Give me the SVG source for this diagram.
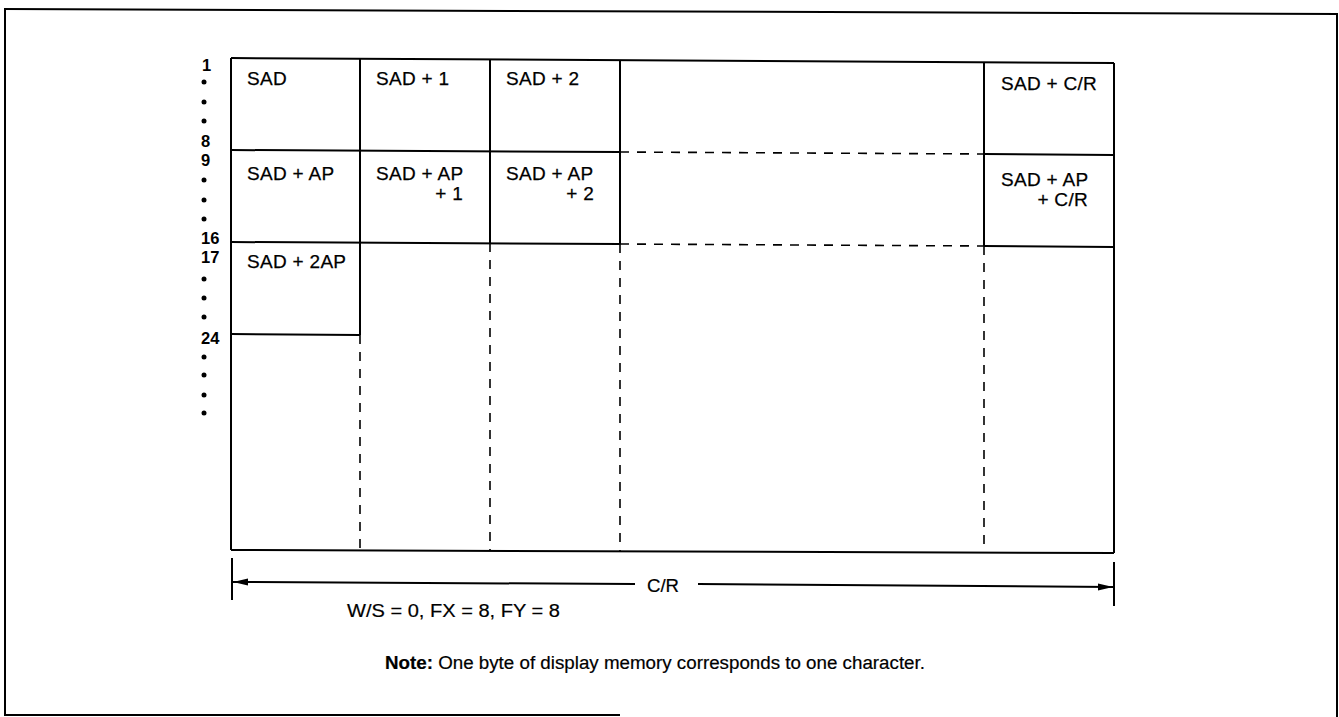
<svg xmlns="http://www.w3.org/2000/svg" width="1339" height="717" viewBox="0 0 1339 717">
<defs>
<style>
.frame{stroke:#000;stroke-width:2;fill:none}
.solid{stroke:#000;stroke-width:2;fill:none}
.dash{stroke:#000;stroke-width:1.6;fill:none;stroke-dasharray:9 8}
.lbl{font-family:"Liberation Sans",Arial,sans-serif;font-size:19px;letter-spacing:0.3px;fill:#000;stroke:#000;stroke-width:0.25}
.row{font-family:"Liberation Sans",Arial,sans-serif;font-size:16.5px;font-weight:bold;fill:#000}
.txt{font-family:"Liberation Sans",Arial,sans-serif;font-size:18px;fill:#000;stroke:#000;stroke-width:0.2}
.dot{fill:#000}
</style>
<marker id="ah" markerUnits="userSpaceOnUse" markerWidth="16" markerHeight="8" refX="15" refY="4" orient="auto">
<path d="M0,0.5 L15,4 L0,7.5 z" fill="#000"/>
</marker>
</defs>
<rect width="1339" height="717" fill="#fff"/>
<g id="outer-frame">
<line class="frame" x1="5" y1="8" x2="5" y2="716"/>
<line class="frame" x1="4" y1="9" x2="1338" y2="14"/>
<line class="frame" x1="1337" y1="13" x2="1337" y2="717"/>
<line class="frame" x1="4" y1="715" x2="620" y2="715"/>
</g>
<g id="grid">
<line class="solid" x1="231" y1="58" x2="1114" y2="63"/>
<line class="solid" x1="231" y1="150" x2="620" y2="152"/>
<line class="dash" x1="620" y1="152" x2="984" y2="154"/>
<line class="solid" x1="984" y1="154" x2="1114" y2="155"/>
<line class="solid" x1="231" y1="242" x2="620" y2="244"/>
<line class="dash" x1="620" y1="244" x2="984" y2="246"/>
<line class="solid" x1="984" y1="246" x2="1114" y2="247"/>
<line class="solid" x1="231" y1="334" x2="360" y2="335"/>
<line class="solid" x1="231" y1="550" x2="1114" y2="553"/>
<line class="solid" x1="231" y1="58" x2="231" y2="550"/>
<line class="solid" x1="360" y1="58" x2="360" y2="335"/>
<line class="dash" x1="360" y1="335" x2="360" y2="550"/>
<line class="solid" x1="490" y1="59" x2="490" y2="243"/>
<line class="dash" x1="490" y1="243" x2="490" y2="551"/>
<line class="solid" x1="620" y1="60" x2="620" y2="244"/>
<line class="dash" x1="620" y1="244" x2="620" y2="551"/>
<line class="solid" x1="984" y1="62" x2="984" y2="246"/>
<line class="dash" x1="984" y1="246" x2="984" y2="552"/>
<line class="solid" x1="1114" y1="63" x2="1114" y2="553"/>
</g>
<g id="cell-sad"><text class="lbl" x="247" y="85">SAD</text></g>
<g id="cell-sad1"><text class="lbl" x="376" y="85">SAD + 1</text></g>
<g id="cell-sad2"><text class="lbl" x="506" y="85">SAD + 2</text></g>
<g id="cell-sadcr"><text class="lbl" x="1001" y="90">SAD + C/R</text></g>
<g id="cell-sadap"><text class="lbl" x="247" y="180">SAD + AP</text></g>
<g id="cell-sadap1"><text class="lbl" x="463" y="200" text-anchor="end">+ 1</text><text class="lbl" x="376" y="180">SAD + AP</text></g>
<g id="cell-sadap2"><text class="lbl" x="594" y="200" text-anchor="end">+ 2</text><text class="lbl" x="506" y="180">SAD + AP</text></g>
<g id="cell-sadapcr"><text class="lbl" x="1001" y="186">SAD + AP</text><text class="lbl" x="1088" y="206" text-anchor="end">+ C/R</text></g>
<g id="cell-sad2ap"><text class="lbl" x="247" y="268">SAD + 2AP</text></g>
<g id="row-numbers">
<text class="row" x="202" y="71">1</text>
<circle class="dot" cx="204" cy="82" r="2.5"/>
<circle class="dot" cx="204" cy="102" r="2.5"/>
<circle class="dot" cx="204" cy="121" r="2.5"/>
<text class="row" x="201" y="147">8</text>
<text class="row" x="201" y="166">9</text>
<circle class="dot" cx="204" cy="180" r="2.5"/>
<circle class="dot" cx="204" cy="200" r="2.5"/>
<circle class="dot" cx="204" cy="219" r="2.5"/>
<text class="row" x="201" y="244">16</text>
<text class="row" x="201" y="263">17</text>
<circle class="dot" cx="204" cy="279" r="2.5"/>
<circle class="dot" cx="204" cy="298" r="2.5"/>
<circle class="dot" cx="204" cy="317" r="2.5"/>
<text class="row" x="201" y="344">24</text>
<circle class="dot" cx="204" cy="357" r="2.5"/>
<circle class="dot" cx="204" cy="375" r="2.5"/>
<circle class="dot" cx="204" cy="395" r="2.5"/>
<circle class="dot" cx="204" cy="413" r="2.5"/>
</g>
<g id="connectors">
<line class="solid" x1="232" y1="558" x2="232" y2="600"/>
<line class="solid" x1="1114" y1="562" x2="1114" y2="606"/>
<line class="solid" x1="635" y1="584" x2="233" y2="582" marker-end="url(#ah)"/>
<line class="solid" x1="698" y1="584" x2="1113" y2="587" marker-end="url(#ah)"/>
</g>
<g id="labels">
<text class="txt" x="647" y="592" textLength="32" lengthAdjust="spacingAndGlyphs">C/R</text>
<text class="txt" x="347" y="617" textLength="213" lengthAdjust="spacingAndGlyphs">W/S = 0, FX = 8, FY = 8</text>
<text class="txt" x="385" y="669" textLength="540" lengthAdjust="spacingAndGlyphs"><tspan font-weight="bold">Note:</tspan> One byte of display memory corresponds to one character.</text>
</g>
</svg>
